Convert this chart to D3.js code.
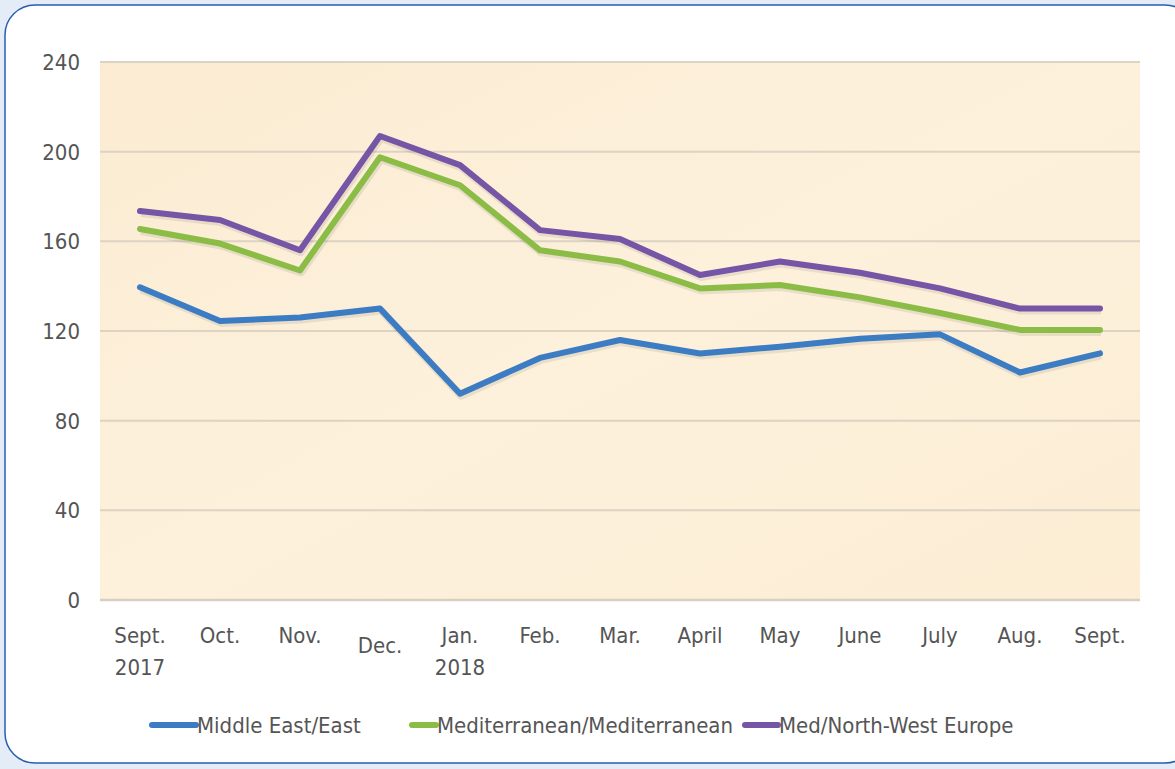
<!DOCTYPE html>
<html><head><meta charset="utf-8">
<script src="https://cdn.jsdelivr.net/npm/d3@7"></script>
<style>html,body{margin:0;padding:0;background:#e3ecf7;}svg{display:block;}
text{font-family:'DejaVu Sans',sans-serif;font-stretch:condensed;}</style>
</head><body>
<svg id="c" width="1175" height="769"></svg>
<script>
const categories = ["Sept.|2017","Oct.","Nov.","Dec.","Jan.|2018","Feb.","Mar.","April","May","June","July","Aug.","Sept."];
const middleEastEast = [139.5,124.5,126,130,92,108,116,110,113,116.5,118.5,101.5,110];
const medMed = [165.5,159,147,197.5,185,156,151,139,140.5,135,128,120.5,120.5];
const medNWEurope = [173.5,169.5,156,207,194,165,161,145,151,146,139,130,130];
const yTicks = [0,40,80,120,160,200,240];
const seriesNames = ["Middle East/East","Mediterranean/Mediterranean","Med/North-West Europe"];
const seriesColors = ["#3c7cc3","#8bbd46","#7654a6"];

const svg = d3.select("#c");
const fs = 22;

svg.append("rect").attr("x",5).attr("y",5).attr("width",1190).attr("height",758).attr("rx",30)
  .attr("fill","#fff").attr("stroke","#2a5db0").attr("stroke-width",1.5);

const L=100,R=1140,T=62,B=600;
const x = d3.scalePoint().domain(d3.range(categories.length)).range([L,R]).padding(0.5);
const y = d3.scaleLinear().domain([0,240]).range([B,T]);

const defs = svg.append("defs");
const g = defs.append("linearGradient").attr("id","bg").attr("x1",0).attr("y1",0).attr("x2",1).attr("y2",1);
g.append("stop").attr("offset","0%").attr("stop-color","#fbebd2");
g.append("stop").attr("offset","50%").attr("stop-color","#fdf1dc");
g.append("stop").attr("offset","100%").attr("stop-color","#fcedd4");
svg.append("rect").attr("x",L).attr("y",T).attr("width",R-L).attr("height",B-T).attr("fill","url(#bg)");

svg.append("g").selectAll("line").data(yTicks).join("line")
  .attr("x1",L).attr("x2",R).attr("y1",d=>y(d)).attr("y2",d=>y(d))
  .attr("stroke",d=>d===0?"#d8cfc0":"#ddd3c3").attr("stroke-width",d=>d===0?2.5:2);

svg.append("g").selectAll("text").data(yTicks).join("text")
  .attr("x",80).attr("y",d=>y(d)+8).attr("text-anchor","end")
  .attr("font-size",fs).attr("fill","#555").text(d=>d);

const xl = svg.append("g").selectAll("text").data(categories).join("text")
  .attr("x",(d,i)=>x(i)).attr("y",(d,i)=>i===3?653:643).attr("text-anchor","middle")
  .attr("font-size",fs).attr("fill","#555");
xl.each(function(d){
  const parts=d.split("|"); const t=d3.select(this);
  parts.forEach((p,k)=>t.append("tspan").attr("x",t.attr("x")).attr("dy",k===0?0:32).text(p));
});

const line = d3.line().x((d,i)=>x(i)).y(d=>y(d));
[middleEastEast,medMed,medNWEurope].forEach((s,k)=>{
  svg.append("path").datum(s).attr("d",line).attr("fill","none")
    .attr("stroke","#000").attr("stroke-opacity",0.08).attr("stroke-width",8)
    .attr("transform","translate(1,2)").attr("stroke-linejoin","round");
  svg.append("path").datum(s).attr("d",line).attr("fill","none")
    .attr("stroke",seriesColors[k]).attr("stroke-width",6).attr("stroke-linejoin","round").attr("stroke-linecap","round");
});

const legX=[152,412,745], legTX=[196,436,778];
seriesNames.forEach((n,k)=>{
  svg.append("line").attr("x1",legX[k]).attr("x2",legTX[k]).attr("y1",725).attr("y2",725)
    .attr("stroke",seriesColors[k]).attr("stroke-width",6).attr("stroke-linecap","round");
  svg.append("text").attr("x",legTX[k]+1).attr("y",733).attr("font-size",fs)
    .attr("fill","#555").text(n);
});
</script>
</body></html>
